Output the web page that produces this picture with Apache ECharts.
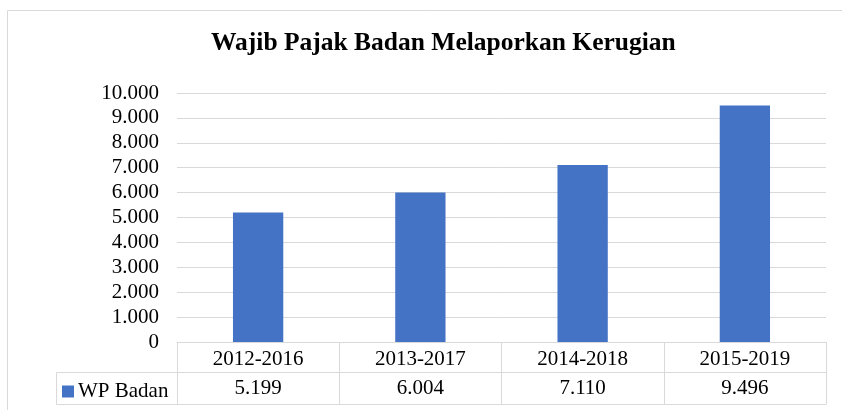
<!DOCTYPE html>
<html>
<head>
<meta charset="utf-8">
<script src="https://cdn.jsdelivr.net/npm/echarts@6/dist/echarts.min.js"></script>
<style>
  html, body { margin: 0; padding: 0; background: #fff; }
</style>
</head>
<body>
<div id="main" style="width:842px;height:410px;"></div>
<script>
    var titleText = 'Wajib Pajak Badan Melaporkan Kerugian'
    var seriesName = 'WP Badan'
    var categories = ['2012-2016', '2013-2017', '2014-2018', '2015-2019']
    var wpBadan = [5199, 6004, 7110, 9496]
    var yTicks = [0, 1000, 2000, 3000, 4000, 5000, 6000, 7000, 8000, 9000, 10000]

    var serif = '"Liberation Serif", "Times New Roman", serif'
    var lineColor = '#d9d9d9'

    // angka pakai titik ribuan
    function fmt(v) {
        return String(v).replace(/\B(?=(\d{3})+(?!\d))/g, '.')
    }

    // layout tabel
    var gridLeft = 177, gridRight = 16, gridTop = 93, gridBottom = 68
    var zeroY = 410 - gridBottom
    var rowH1 = 30, rowH2 = 32
    var cellLeft = 56

    var chart = echarts.init(document.getElementById('main'))
    chart.setOption({
        animation: false,
        title: {
            text: titleText,
            left: 206,
            top: 25,
            textStyle: {fontFamily: serif, fontSize: 25.5, fontWeight: 'bold', color: '#000'}
        },
        legend: {
            data: [seriesName],
            left: cellLeft + 1,
            top: zeroY + rowH1 + 4,
            itemWidth: 12,
            itemHeight: 12,
            icon: 'rect',
            textStyle: {fontFamily: serif, fontSize: 21, color: '#000', padding: [0, 0, 0, -1]}
        },
        grid: {left: gridLeft, right: gridRight, top: gridTop, bottom: gridBottom},
        xAxis: [
            {
                type: 'category',
                data: categories,
                axisLine: {lineStyle: {color: lineColor}},
                axisTick: {show: true, length: rowH1 + rowH2, lineStyle: {color: lineColor}},
                axisLabel: {fontFamily: serif, fontSize: 21, color: '#000', margin: 7, lineHeight: 21}
            },
            {
                type: 'category',
                position: 'bottom',
                offset: rowH1,
                data: wpBadan.map(fmt),
                axisLine: {lineStyle: {color: lineColor}},
                axisTick: {show: false},
                axisLabel: {fontFamily: serif, fontSize: 21, color: '#000', margin: 6, lineHeight: 21}
            },
            {
                type: 'category',
                position: 'bottom',
                offset: rowH1 + rowH2,
                data: categories,
                axisLine: {lineStyle: {color: lineColor}},
                axisTick: {show: false},
                axisLabel: {show: false}
            }
        ],
        yAxis: {
            type: 'value',
            min: yTicks[0],
            max: yTicks[yTicks.length - 1],
            interval: yTicks[1] - yTicks[0],
            axisLine: {show: false},
            axisTick: {show: false},
            splitLine: {lineStyle: {color: lineColor}},
            axisLabel: {
                fontFamily: serif, fontSize: 21, color: '#000', margin: 18,
                formatter: function (v) { return fmt(v) }
            }
        },
        series: [
            {
                name: seriesName,
                type: 'bar',
                data: wpBadan,
                barWidth: '31%',
                itemStyle: {color: '#4472C4'}
            }
        ],
        graphic: [
            {
                type: 'rect',
                shape: {x: 7.5, y: 10.5, width: 900, height: 500},
                style: {fill: 'none', stroke: lineColor, lineWidth: 1},
                silent: true
            },
            {
                type: 'polyline',
                shape: {points: [[gridLeft, zeroY + rowH1 + 0.5], [cellLeft + 0.5, zeroY + rowH1 + 0.5],
                    [cellLeft + 0.5, zeroY + rowH1 + rowH2 + 0.5], [gridLeft, zeroY + rowH1 + rowH2 + 0.5]]},
                style: {fill: 'none', stroke: lineColor, lineWidth: 1},
                silent: true
            }
        ]
    })
</script>
</body>
</html>
